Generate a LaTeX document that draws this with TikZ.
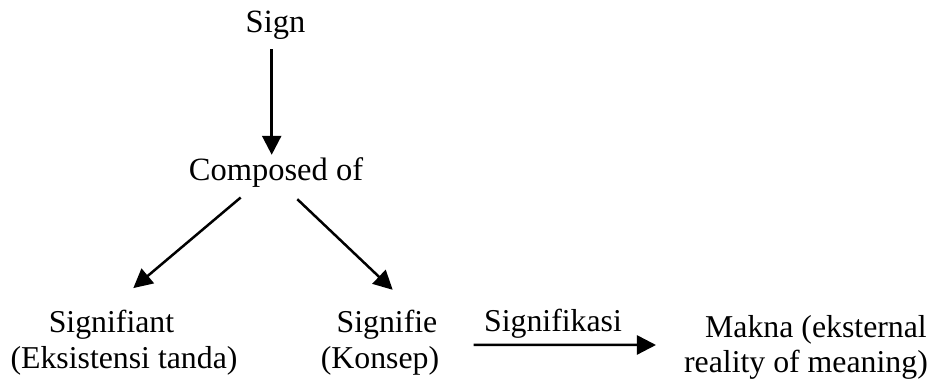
\documentclass[tikz,border=0pt]{standalone}
\usepackage{fontspec}
\setmainfont{Liberation Serif}
\usetikzlibrary{arrows.meta,calc}
\begin{document}
\begin{tikzpicture}[x=1pt,y=-1pt,
  txt/.style={inner sep=0pt,anchor=base,text height=22pt,text depth=7pt,font=\fontsize{32.5}{38}\selectfont},
  low/.style={txt,font=\fontsize{31.8}{38}\selectfont},
  arr/.style={line width=2.5pt,-{Triangle[length=19pt,width=19pt]}}]
\useasboundingbox (0,0) rectangle (947,379);
\node[txt] (sign) at (275.5,33) {Sign};
\node[txt] (comp) at (276,181) {Composed of};
\node[low] (sigant) at (111.5,332) {Signifiant};
\node[low] (eks) at (124,368) {(Eksistensi tanda)};
\node[low] (signifie) at (387,332) {Signifie};
\node[low] (konsep) at (380,368) {(Konsep)};
\node[low] (sigkas) at (553,331) {Signifikasi};
\node[low,anchor=base east] (makna) at (927,337) {Makna (eksternal};
\node[low,anchor=base east] (real) at (928,372) {reality of meaning)};
\draw[arr] ($(sign.south)+(-3.8,9)$) -- ($(comp.north)+(-4.3,-4)$);
\draw[arr] ($(comp.south)+(-35.3,9.3)$) -- ($(sigant.north)+(21.8,-21.7)$);
\draw[arr] ($(comp.south)+(21.3,11)$) -- ($(signifie.north)+(5.7,-20)$);
\draw[arr] ($(signifie.east)+(36,20.3)$) -- ($(makna.west)+(-49,15.5)$);
\end{tikzpicture}
\end{document}
